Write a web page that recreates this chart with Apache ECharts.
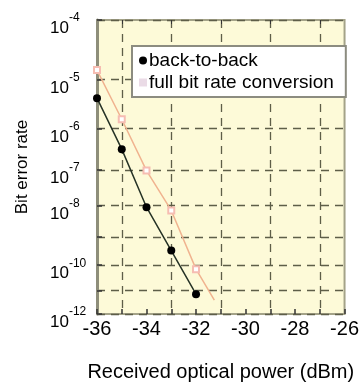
<!DOCTYPE html>
<html>
<head>
<meta charset="utf-8">
<script src="https://cdn.jsdelivr.net/npm/echarts@6/dist/echarts.min.js"></script>
<style>
  html, body { margin: 0; padding: 0; background: #fff; }
  #chart { width: 362px; height: 387px; }
</style>
</head>
<body>
<div id="chart"></div>
<script>
// received optical power (dBm) and bit error rate
const powerB2B = [-36, -35, -34, -33, -32];
const berB2B = [4.4e-6, 3.3e-7, 8.9e-9, 3.4e-10, 7.2e-12];
const powerConv = [-36, -35, -34, -33, -32, -31.26];
const berConv = [1.5e-5, 1.6e-6, 9.5e-8, 7.1e-9, 7.1e-11, 4e-12]; // last one = end of fitted line
const seriesNames = ["back-to-back", "full bit rate conversion"];

// axis ticks
const xMin = -36, xMax = -26;
const xGridLines = [-35, -33, -31, -29, -27];
const yLabelExps = [4, 5, 6, 7, 8, 10, 12];
const yGridExps = [4, 5, 6, 7, 8, 9, 10, 11, 12];

// BER plotted on a log(-log) scale
const q = (ber) => Math.log10(-Math.log10(ber));
const fromExp = (e) => Math.log10(e);

const FONT = "Liberation Sans, Arial, sans-serif";
const gridLine = { show: true, lineStyle: { color: "#5e5e48", width: 1.3, type: [8, 6] } };

const chart = echarts.init(document.getElementById("chart"));

chart.setOption({
  animation: false,
  textStyle: { fontFamily: FONT },
  grid: {
    left: 97, right: 7, top: 20, bottom: 66,
    show: true,
    backgroundColor: "#fdfad8",
    borderColor: "#a4a388",
    borderWidth: 2,
  },
  legend: {
    orient: "vertical",
    left: 132,
    top: 46,
    padding: [5, 12, 5, 7],
    itemGap: 3,
    itemWidth: 8,
    itemHeight: 8,
    backgroundColor: "#fff",
    borderColor: "#8c8c80",
    borderWidth: 2,
    textStyle: { fontSize: 19, color: "#000", fontFamily: FONT, padding: [0, 0, 0, -3] },
    data: [
      { name: seriesNames[0], icon: "circle", itemStyle: { color: "#000" } },
      { name: seriesNames[1], icon: "rect", itemStyle: { color: "#eadbe6", borderWidth: 0 } },
    ],
  },
  xAxis: [
    {
      type: "value",
      min: xMin,
      max: xMax,
      interval: 2,
      position: "bottom",
      name: "Received optical power (dBm)",
      nameLocation: "middle",
      nameGap: 48,
      nameTextStyle: { fontSize: 20, color: "#000", fontFamily: FONT },
      axisLine: { show: false },
      axisTick: { show: true, inside: true, length: 5, lineStyle: { color: "#333", width: 1.5 } },
      minorTick: { show: true, splitNumber: 2, length: 5, lineStyle: { color: "#333", width: 1.5 } },
      axisLabel: { fontSize: 20, color: "#000", margin: 5, fontFamily: FONT },
      splitLine: { show: false },
    },
    {
      type: "value",
      min: xMin,
      max: xMax,
      position: "top",
      axisLine: { show: false },
      axisTick: { show: true, inside: true, length: 4, customValues: xGridLines, lineStyle: { color: "#333" } },
      axisLabel: { show: false },
      splitLine: gridLine,
    },
  ],
  yAxis: {
    type: "value",
    inverse: true,
    min: fromExp(4),
    max: fromExp(12),
    name: "Bit error rate",
    nameLocation: "middle",
    nameGap: 66,
    nameTextStyle: { fontSize: 17, color: "#000", fontFamily: FONT },
    axisLine: { show: true, lineStyle: { color: "#8e8e7a", width: 3 } },
    axisTick: {
      show: true, inside: true, length: 5,
      customValues: yGridExps.map(fromExp),
      lineStyle: { color: "#333", width: 1.5 },
    },
    axisLabel: {
      customValues: yLabelExps.map(fromExp),
      align: "left",
      margin: 47,
      color: "#000",
      fontFamily: FONT,
      padding: [6, 0, 0, 0],
      formatter: (v) => "{b|10}{s|-" + Math.round(Math.pow(10, v)) + "}",
      rich: {
        b: { fontSize: 17, color: "#000", fontFamily: FONT, padding: [11, 0, 0, 0] },
        s: { fontSize: 12, color: "#000", fontFamily: FONT, verticalAlign: "top", padding: [3, 0, 0, 0] },
      },
    },
    splitLine: gridLine,
  },
  series: [
    {
      name: seriesNames[1],
      type: "line",
      data: powerConv.map((p, i) =>
        i < powerConv.length - 1
          ? [p, q(berConv[i])]
          : { value: [p, q(berConv[i])], symbol: "none" }
      ),
      symbol: "emptyRect",
      symbolSize: 6,
      lineStyle: { color: "#f0b38f", width: 1.5 },
      itemStyle: { color: "#f6bdb2", borderWidth: 1.2 },
      z: 3,
    },
    {
      name: seriesNames[0],
      type: "line",
      data: powerB2B.map((p, i) => [p, q(berB2B[i])]),
      symbol: "circle",
      symbolSize: 8,
      lineStyle: { color: "#263326", width: 1.5 },
      itemStyle: { color: "#000" },
      z: 4,
    },
  ],
});
</script>
</body>
</html>
